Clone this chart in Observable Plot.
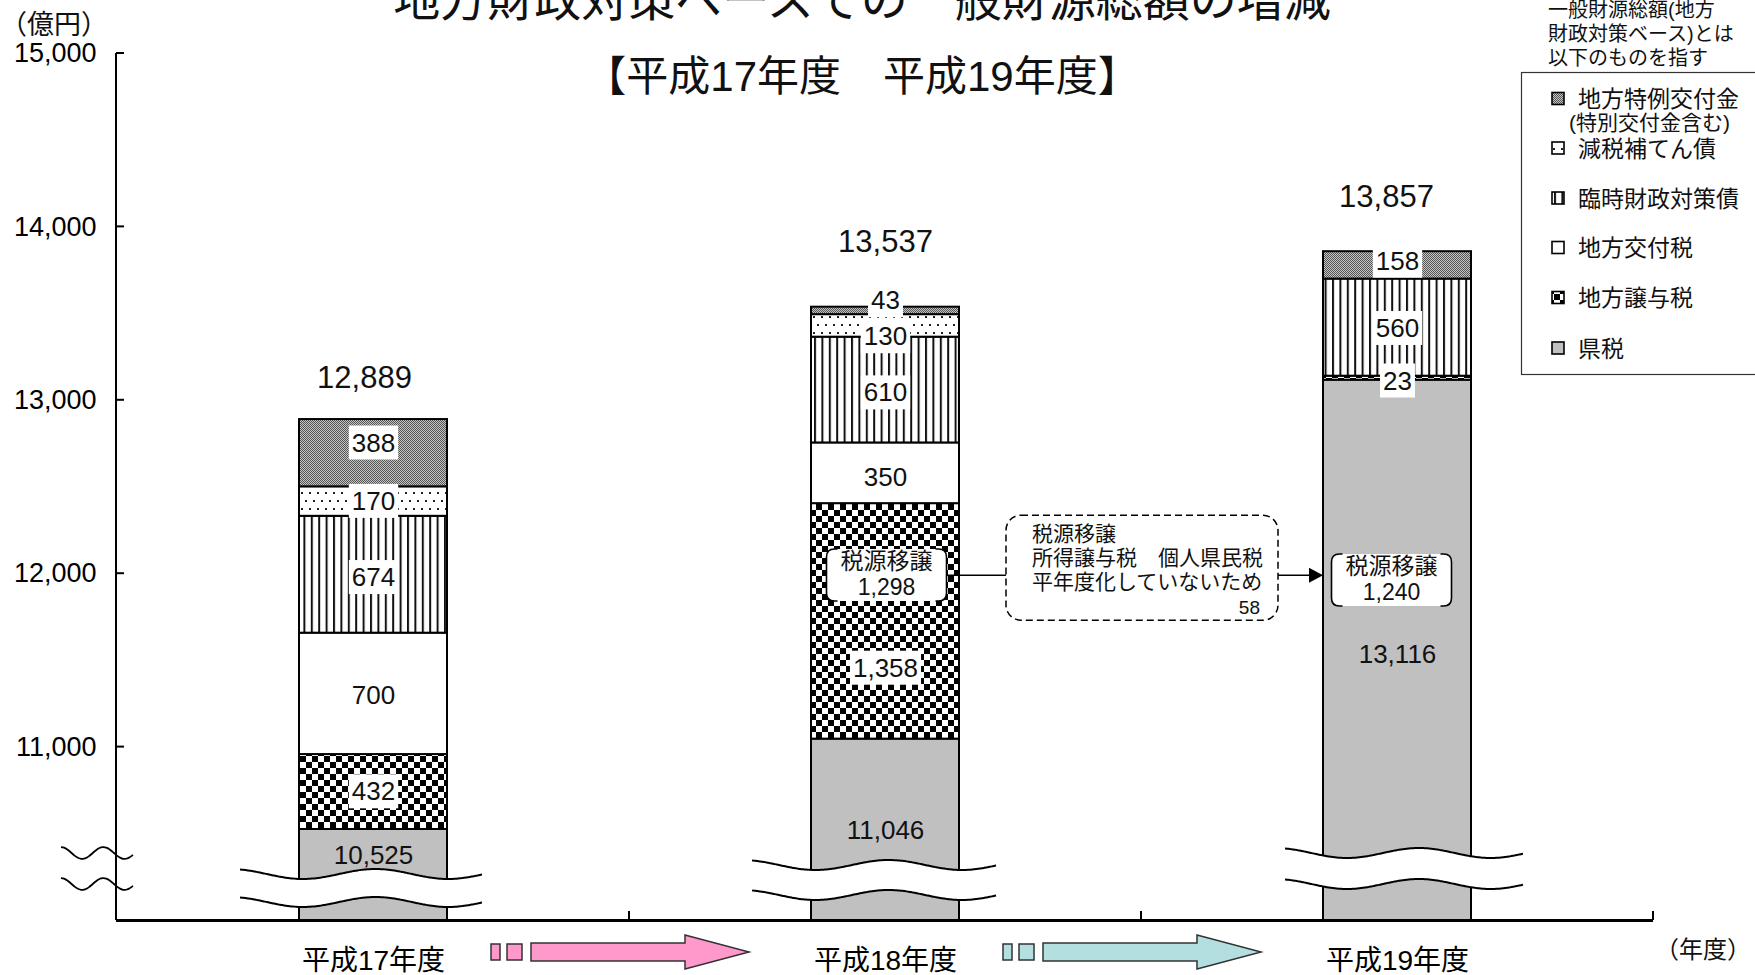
<!DOCTYPE html>
<html lang="ja">
<head>
<meta charset="utf-8">
<script src="https://cdn.jsdelivr.net/npm/d3@7"></script>
<script src="https://cdn.jsdelivr.net/npm/@observablehq/plot@0.6"></script>
<style>
html,body{margin:0;padding:0;background:#fff;overflow:hidden;}
#chart{width:1755px;height:975px;}
</style>
</head>
<body>
<div id="chart"></div>
<script>
// ---------------- data ----------------
const years = ["平成17年度", "平成18年度", "平成19年度"];
const categories = ["県税", "地方譲与税", "地方交付税", "臨時財政対策債", "減税補てん債", "地方特例交付金"];
const kenzei  = [10525, 11046, 13116];
const joyozei = [432, 1358, 23];
const kofuzei = [700, 350, 0];
const rinzai  = [674, 610, 560];
const genzei  = [170, 130, 0];
const tokurei = [388, 43, 158];
const totals  = [12889, 13537, 13857];
const zeigenYears = ["平成18年度", "平成19年度"];
const zeigenValues = [1298, 1240];
const shortfall = 58;
const yTicks = [11000, 12000, 13000, 14000, 15000];
const yDomain = [10000, 15000];

const titleText = "地方財政対策ベースでの一般財源総額の増減";
const subtitleText = "【平成17年度　平成19年度】";
const noteLines = ["一般財源総額(地方", "財政対策ベース)とは", "以下のものを指す"];
const legendOrder = ["地方特例交付金", "減税補てん債", "臨時財政対策債", "地方交付税", "地方譲与税", "県税"];
const legendText = {"地方特例交付金": ["地方特例交付金", "(特別交付金含む)"]};
const calloutLines = ["税源移譲", "所得譲与税　個人県民税", "平年度化していないため"];

// ---------------- layout (pixels) ----------------
const FONT = "'Liberation Sans','Noto Sans CJK JP',sans-serif";
const fills = ["#c0c0c0", "url(#pJoyo)", "#ffffff", "url(#pRin)", "url(#pGen)", "url(#pTok)"];
// label nudges (px) per year, in category order
const labelNudge = [[26, 0, 2, 3, 0, -10], [92, 47, 4, 3, 11, -10], [274, 3, 0, 1, 0, -4]];
const totalNudge = [-41, -65, -55];
const totalDx = [-9, 0, -11];
const annLevel = 12000;

// ---------------- build rows ----------------
const series = [kenzei, joyozei, kofuzei, rinzai, genzei, tokurei];
const rows = [], segLabels = [];
years.forEach((yr, i) => {
  let base = 0;
  categories.forEach((cat, k) => {
    const v = series[k][i];
    if (v > 0) {
      rows.push({year: yr, cat, value: v});
      segLabels.push({year: yr, cat, value: v, y: k === 0 ? base + v : base + v / 2, dy: labelNudge[i][k]});
    }
    base += v;
  });
});
const fmt = d3.format(",");

const chart = Plot.plot({
  width: 1755, height: 975,
  marginLeft: 116, marginRight: 102, marginTop: 53, marginBottom: 55,
  style: {fontFamily: FONT, fontSize: "26px", color: "#000", background: "#fff", overflow: "visible"},
  x: {domain: years, padding: 0, tickSize: 0, tickPadding: 30, label: null},
  y: {domain: yDomain, ticks: yTicks, tickSize: 0, tickPadding: 20, tickFormat: d => fmt(d), label: null},
  color: {domain: categories, range: fills},
  marks: [
    Plot.barY(rows, Plot.stackY({x: "year", y: "value", z: "cat", order: categories, fill: "cat",
      stroke: "#000", strokeWidth: 2, insetLeft: 182, insetRight: 182, clip: true})),
    Plot.ruleY([yDomain[0]], {stroke: "#000", strokeWidth: 3}),
    ...segLabels.map(d => Plot.text([d], {x: "year", y: "y", text: e => fmt(e.value), dy: d.dy, fontSize: 26, fill: "#111"})),
    ...years.map((yr, i) => Plot.text([{year: yr, v: totals[i]}], {x: "year", y: "v", text: e => fmt(e.v), dx: totalDx[i], dy: totalNudge[i], fontSize: 31, fill: "#111"})),
    ...zeigenYears.map((yr, i) => Plot.text([{year: yr, v: zeigenValues[i]}], {x: "year", y: () => annLevel,
      text: e => "税源移譲\n" + fmt(e.v), lineHeight: 1.13, fontSize: 23, fill: "#111", dx: i === 0 ? 1 : -6, dy: i === 0 ? 0 : 5}))
  ]
});
document.getElementById("chart").append(chart);

const svg = d3.select(chart);
const sx = chart.scale("x"), sy = chart.scale("y");
const bw = sx.bandwidth;
const xL = sx.range[0], xR = sx.range[1];
const yB = sy.apply(yDomain[0]), yT = sy.apply(yDomain[1]);
svg.selectAll('[aria-label="x-axis tick label"] text').attr("font-size", 28);
svg.selectAll('[aria-label="y-axis tick label"] text').attr("font-size", 27);

// ---------------- patterns ----------------
const defs = svg.insert("defs", ":first-child");
{
  let p = defs.append("pattern").attr("id", "pTok").attr("width", 2).attr("height", 2).attr("patternUnits", "userSpaceOnUse");
  p.append("rect").attr("width", 2).attr("height", 2).attr("fill", "#c4c4c4");
  p.append("rect").attr("width", 1).attr("height", 1).attr("fill", "#555");
  p.append("rect").attr("x", 1).attr("y", 1).attr("width", 1).attr("height", 1).attr("fill", "#555");
  p = defs.append("pattern").attr("id", "pGen").attr("width", 8).attr("height", 16).attr("patternUnits", "userSpaceOnUse");
  p.append("rect").attr("width", 8).attr("height", 16).attr("fill", "#fff");
  p.append("rect").attr("x", 1).attr("y", 4).attr("width", 2).attr("height", 2).attr("fill", "#222");
  p.append("rect").attr("x", 5).attr("y", 12).attr("width", 2).attr("height", 2).attr("fill", "#222");
  p = defs.append("pattern").attr("id", "pRin").attr("width", 7.4).attr("height", 10).attr("patternUnits", "userSpaceOnUse");
  p.append("rect").attr("width", 7.4).attr("height", 10).attr("fill", "#fff");
  p.append("rect").attr("x", 0).attr("width", 2).attr("height", 10).attr("fill", "#111");
  p = defs.append("pattern").attr("id", "pJoyo").attr("width", 12).attr("height", 12).attr("patternUnits", "userSpaceOnUse");
  p.append("rect").attr("width", 12).attr("height", 12).attr("fill", "#fff");
  p.append("rect").attr("width", 6).attr("height", 6).attr("fill", "#000");
  p.append("rect").attr("x", 6).attr("y", 6).attr("width", 6).attr("height", 6).attr("fill", "#000");
}

// ---------------- white boxes behind segment labels ----------------
const boxed = new Set(segLabels.filter(d => d.cat !== "県税").map(d => fmt(d.value)));
svg.selectAll('g[aria-label="text"] text').each(function () {
  const t = this.textContent;
  const bb = this.getBBox();
  const tr = this.getAttribute("transform");
  if (boxed.has(t)) {
    d3.select(this.parentNode).insert("rect", () => this)
      .attr("transform", tr).attr("x", bb.x - 3).attr("y", bb.y - 2)
      .attr("width", bb.width + 6).attr("height", bb.height + 4).attr("fill", "#fff");
  } else if (t.startsWith("税源移譲")) {
    const g = d3.select(this.parentNode);
    const x0 = bb.x - 14, x1 = bb.x + bb.width + 14, y0 = bb.y + 1, y1 = bb.y + bb.height + 1, r = 8;
    g.insert("rect", () => this).attr("transform", tr).attr("x", x0).attr("y", y0)
      .attr("width", x1 - x0).attr("height", y1 - y0).attr("rx", r).attr("fill", "#fff");
    const path = `M${x0 + r + 3},${y0}L${x0 + r},${y0}Q${x0},${y0} ${x0},${y0 + r}L${x0},${y1 - r}Q${x0},${y1} ${x0 + r},${y1}L${x0 + r + 3},${y1}` +
      `M${x1 - r - 3},${y0}L${x1 - r},${y0}Q${x1},${y0} ${x1},${y0 + r}L${x1},${y1 - r}Q${x1},${y1} ${x1 - r},${y1}L${x1 - r - 3},${y1}`;
    g.insert("path", () => this).attr("transform", tr).attr("d", path)
      .attr("fill", "none").attr("stroke", "#000").attr("stroke-width", 1.6);
  }
});

// ---------------- axes decorations ----------------
const deco = svg.append("g").attr("font-family", FONT).attr("fill", "#111").attr("text-anchor", "start");
deco.append("line").attr("x1", xL).attr("x2", xL).attr("y1", yT).attr("y2", yB).attr("stroke", "#000").attr("stroke-width", 2);
yTicks.forEach(t => deco.append("line").attr("x1", xL).attr("x2", xL + 8).attr("y1", sy.apply(t)).attr("y2", sy.apply(t)).attr("stroke", "#000").attr("stroke-width", 2));
years.forEach(yr => { const x = sx.apply(yr) + bw; deco.append("line").attr("x1", x).attr("x2", x).attr("y1", yB).attr("y2", yB - 9).attr("stroke", "#000").attr("stroke-width", 2); });

// wave breaks
function wave(x0, x1, yc, amp, period, crest) {
  const pts = [];
  for (let x = x0; x <= x1 + 0.01; x += 2) {
    const t = (x - x0) / (x1 - x0);
    pts.push([x, yc - amp * Math.cos(2 * Math.PI * (t - crest) / period)]);
  }
  return pts;
}
const line = d3.line().curve(d3.curveBasis);
const breaks = [[-59, 35, 46, 18], [-59, 37, 55, 25], [-38, 53, 67, 36]];
years.forEach((yr, i) => {
  const b0 = sx.apply(yr) + 182, b1 = sx.apply(yr) + bw - 182;
  const [l, r, up, lo] = breaks[i];
  const w1 = wave(b0 + l, b1 + r, yB - up, 5, 0.6, 0.56);
  const w2 = wave(b0 + l, b1 + r, yB - lo, 5, 0.6, 0.56);
  deco.append("path").attr("d", line(w1) + "L" + w2.slice().reverse().map(p => p.join(",")).join("L") + "Z").attr("fill", "#fff");
  deco.append("path").attr("d", line(w1)).attr("fill", "none").attr("stroke", "#000").attr("stroke-width", 2);
  deco.append("path").attr("d", line(w2)).attr("fill", "none").attr("stroke", "#000").attr("stroke-width", 2);
});
[67, 36].forEach(o => deco.append("path").attr("d", line(wave(xL - 55, xL + 18, yB - o, 6, 0.58, 0))).attr("fill", "none").attr("stroke", "#000").attr("stroke-width", 1.8));

// axis titles
deco.append("text").attr("x", 0).attr("y", 34).attr("font-size", 27).text("（億円）");
deco.append("text").attr("x", 1655).attr("y", 958).attr("font-size", 24).text("（年度）");

// title
deco.append("text").attr("x", 862).attr("y", 16).attr("text-anchor", "middle").attr("font-size", 47).text(titleText);
deco.append("text").attr("x", 862).attr("y", 91).attr("text-anchor", "middle").attr("font-size", 42).text(subtitleText);

// arrows between years
const arrowCols = [["#ff99cc", "#333"], ["#b4dfe0", "#333"]];
[0, 1].forEach(i => {
  const B = sx.apply(years[i]) + bw, yc = 952;
  const g = deco.append("g").attr("stroke", arrowCols[i][1]).attr("stroke-width", 1.5).attr("fill", arrowCols[i][0]);
  g.append("rect").attr("x", B - 138).attr("y", yc - 8).attr("width", 9).attr("height", 16);
  g.append("rect").attr("x", B - 122).attr("y", yc - 8).attr("width", 15).attr("height", 16);
  g.append("path").attr("d", `M${B - 98},${yc - 9}L${B + 56},${yc - 9}L${B + 56},${yc - 17}L${B + 120},${yc}L${B + 56},${yc + 17}L${B + 56},${yc + 9}L${B - 98},${yc + 9}Z`);
});

// callout
{
  const B = sx.apply(years[1]) + bw, yc = sy.apply(annLevel);
  const bx0 = B - 135, bx1 = B + 137, by0 = yc - 58, by1 = yc + 47;
  deco.append("rect").attr("x", bx0).attr("y", by0).attr("width", bx1 - bx0).attr("height", by1 - by0).attr("rx", 15)
    .attr("fill", "#fff").attr("stroke", "#000").attr("stroke-width", 1.5).attr("stroke-dasharray", "7,4");
  calloutLines.forEach((t, k) => deco.append("text").attr("x", bx0 + 26).attr("y", yc - 40 + 7.5 + k * 24).attr("font-size", 21).text(t));
  deco.append("text").attr("x", bx1 - 18).attr("y", yc + 34 + 6.5).attr("text-anchor", "end").attr("font-size", 19).text(shortfall);
  const bar2R = sx.apply(years[1]) + bw - 182 - 11;
  deco.append("line").attr("x1", bar2R).attr("x2", bx0).attr("y1", yc + 2).attr("y2", yc + 2).attr("stroke", "#000").attr("stroke-width", 1.5);
  const bar3L = sx.apply(years[2]) + 182;
  deco.append("line").attr("x1", bx1).attr("x2", bar3L - 12).attr("y1", yc + 2).attr("y2", yc + 2).attr("stroke", "#000").attr("stroke-width", 1.5);
  deco.append("path").attr("d", `M${bar3L},${yc + 2}L${bar3L - 14},${yc - 5.5}L${bar3L - 14},${yc + 9.5}Z`).attr("fill", "#000");
}

// note above legend
noteLines.forEach((t, k) => deco.append("text").attr("x", 1548).attr("y", 17 + k * 24).attr("font-size", 20).text(t));

// legend
{
  const lg = deco.append("g");
  lg.append("rect").attr("x", 1521.5).attr("y", 72.5).attr("width", 260).attr("height", 302).attr("fill", "#fff").attr("stroke", "#333").attr("stroke-width", 1.2);
  const ys = [98.5, 148, 198, 247.5, 297.5, 348];
  legendOrder.forEach((cat, k) => {
    const y = ys[k];
    lg.append("rect").attr("x", 1552).attr("y", y - 6).attr("width", 12).attr("height", 12)
      .attr("fill", fills[categories.indexOf(cat)]).attr("stroke", "#000").attr("stroke-width", 1.6);
    const lines = legendText[cat] || [cat];
    lg.append("text").attr("x", 1578).attr("y", y + 8.5).attr("font-size", 23).text(lines[0]);
    if (lines[1]) lg.append("text").attr("x", 1569).attr("y", y + 31).attr("font-size", 21).text(lines[1]);
  });
}
</script>
</body>
</html>
